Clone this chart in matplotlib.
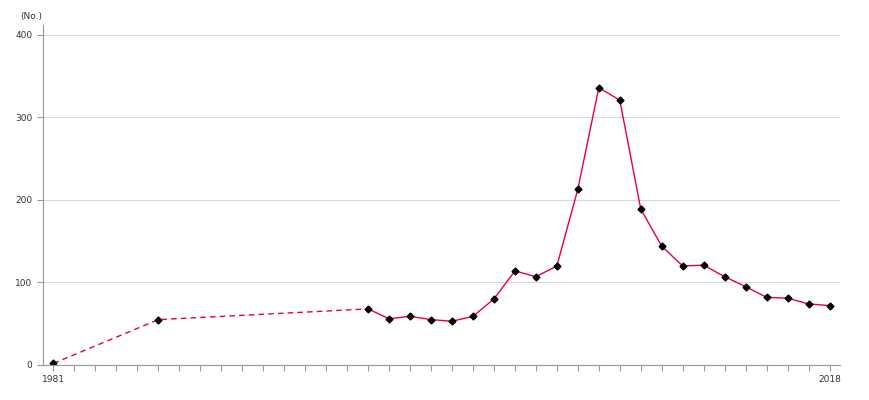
import matplotlib.pyplot as plt

years = [1981, 1986, 1996, 1997, 1998, 1999, 2000, 2001, 2002, 2003, 2004,
         2005, 2006, 2007, 2008, 2009, 2010, 2011, 2012, 2013, 2014, 2015,
         2016, 2017, 2018]
values = [2, 55, 68, 56, 59, 55, 53, 59, 80, 114, 107,
          120, 213, 336, 321, 189, 144, 120, 121, 107, 95, 82,
          81, 74, 72]

line_color = '#e8003c'

fig = plt.figure(figsize=(8.7, 4), dpi=100)
ax = fig.add_axes([43 / 870, 35 / 400, 797 / 870, 340 / 400])

# dashed where years are missing, solid afterwards
ax.plot(years[:3], values[:3], color=line_color, lw=1, ls=(0, (4, 3)))
ax.plot(years[2:], values[2:], color=line_color, lw=1)
ax.plot(years, values, ls='none', marker='D', ms=3.5, color='black')

ax.set_xlim(1980.5, 2018.5)
ax.set_ylim(0, 412)
ax.set_yticks([0, 100, 200, 300, 400])
ax.set_xticks(range(1981, 2019))
ax.set_xticklabels(['1981'] + [''] * 36 + ['2018'])
ax.grid(axis='y', color='#d9d9d9', lw=0.8)
ax.set_axisbelow(True)

for s in ['top', 'right']:
    ax.spines[s].set_visible(False)
for s in ['left', 'bottom']:
    ax.spines[s].set_color('#999999')
ax.tick_params(axis='both', colors='#999999', labelcolor='#333333',
               labelsize=6.5, length=4, width=0.8)

fig.text(20 / 870, 1 - 17 / 400, '(No.)', fontsize=6.5, color='#333333',
         va='center')

fig.savefig('out.png', dpi=100)
